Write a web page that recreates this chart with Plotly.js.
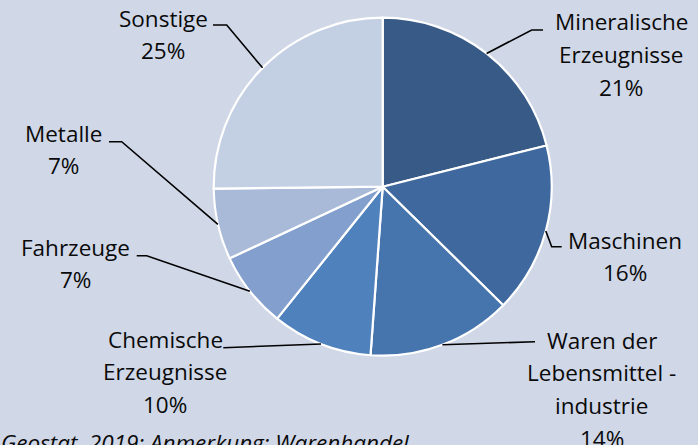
<!DOCTYPE html>
<html>
<head>
<meta charset="utf-8">
<script src="https://cdn.plot.ly/plotly-3.0.1.min.js"></script>
<style>
  html, body { margin: 0; padding: 0; background: #D0D8E8; }
  #chart { width: 698px; height: 445px; }
</style>
</head>
<body>
<div id="chart"></div>
<script>
// ---- data ----
var categories = ['Mineralische Erzeugnisse', 'Maschinen', 'Waren der Lebensmittel - industrie',
                  'Chemische Erzeugnisse', 'Fahrzeuge', 'Metalle', 'Sonstige'];
var labelLines = [
  ['Mineralische', 'Erzeugnisse'],
  ['Maschinen'],
  ['Waren der', 'Lebensmittel -', 'industrie'],
  ['Chemische', 'Erzeugnisse'],
  ['Fahrzeuge'],
  ['Metalle'],
  ['Sonstige']
];
var values = [21.1, 16.3, 13.8, 9.6, 7.3, 6.8, 25.2];
var colors = ['#375A87', '#3F699E', '#4675AE', '#4F81BD', '#829FCD', '#A9BAD8', '#C3CFE3'];
var footnote = 'Geostat, 2019; Anmerkung: Warenhandel';

// ---- layout helpers (pixel geometry) ----
var W = 698, H = 445;
var CX = 382.7, CY = 186.7, R = 169;
function px(x) { return x / W; }
function py(y) { return 1 - y / H; }

// label placement: center x, first line center y; leader elbow points
var labelPos = [
  {x: 621, y: 22, elbow: [[531.7, 30], [543, 30]]},
  {x: 625, y: 240, elbow: [[551.7, 246.7], [561.7, 246.7]]},
  {x: 601.5, y: 340, elbow: [[535, 341.7]]},
  {x: 165, y: 339, elbow: [[223.3, 347.7]]},
  {x: 75, y: 247, elbow: [[146.7, 255.7], [136.7, 255.7]]},
  {x: 63, y: 133, elbow: [[121.7, 141.7], [109, 141.7]]},
  {x: 163, y: 18, elbow: [[226.7, 25], [213, 25]]}
];
var STEP = 32.8;
var FONT = 'Open Sans, Lato, sans-serif';
var FS = 22.5;

var total = values.reduce(function (a, b) { return a + b; }, 0);
var annotations = [];
var shapes = [];
var cum = 0;
values.forEach(function (v, i) {
  var mid = 2 * Math.PI * (cum + v / 2) / total;
  cum += v;
  var ex = CX + R * Math.sin(mid), ey = CY - R * Math.cos(mid);
  var pts = [[ex, ey]].concat(labelPos[i].elbow);
  var path = pts.map(function (p, k) { return (k ? 'L' : 'M') + px(p[0]) + ',' + py(p[1]); }).join(' ');
  shapes.push({type: 'path', xref: 'paper', yref: 'paper', path: path,
               line: {color: '#000000', width: 1.6}});
  var lines = labelLines[i].concat([Math.round(v / total * 100) + '%']);
  lines.forEach(function (t, k) {
    annotations.push({
      xref: 'paper', yref: 'paper', x: px(labelPos[i].x), y: py(labelPos[i].y + k * STEP),
      xanchor: 'center', yanchor: 'middle', showarrow: false, text: t,
      font: {family: FONT, size: FS, color: '#0A0A0A'}
    });
  });
});

annotations.push({
  xref: 'paper', yref: 'paper', x: px(-1), y: py(425), xanchor: 'left', yanchor: 'top',
  showarrow: false, text: '<i>' + footnote + '</i>',
  font: {family: FONT, size: 22.5, color: '#0A0A0A'}
});

var trace = {
  type: 'pie',
  labels: categories,
  values: values,
  sort: false,
  direction: 'clockwise',
  rotation: 0,
  textinfo: 'none',
  hoverinfo: 'label+percent',
  marker: {colors: colors, line: {color: '#FFFFFF', width: 2.2}},
  domain: {x: [px(CX - R), px(CX + R)], y: [py(CY + R), py(CY - R)]},
  showlegend: false
};

var layout = {
  width: W, height: H,
  margin: {l: 0, r: 0, t: 0, b: 0},
  paper_bgcolor: '#D0D8E8',
  plot_bgcolor: '#D0D8E8',
  showlegend: false,
  annotations: annotations,
  shapes: shapes
};

Plotly.newPlot('chart', [trace], layout, {displayModeBar: false, staticPlot: true});
</script>
</body>
</html>
